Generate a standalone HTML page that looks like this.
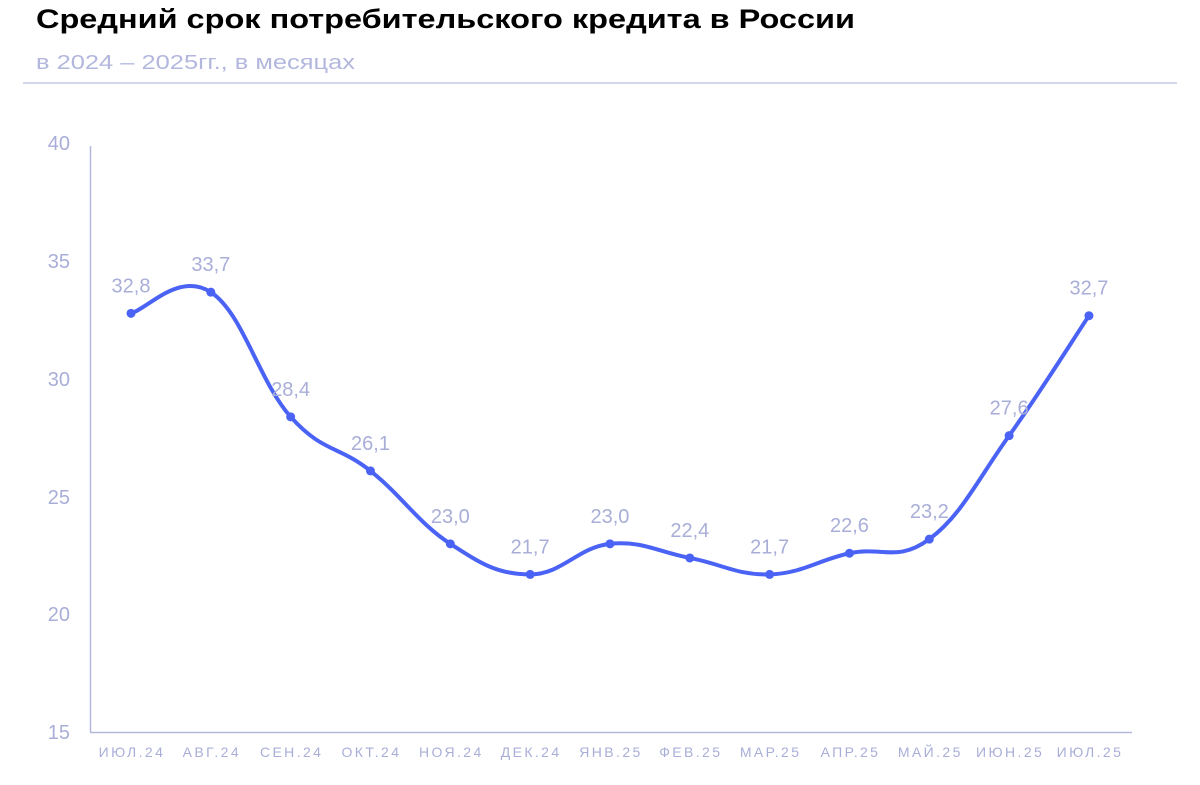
<!DOCTYPE html>
<html><head><meta charset="utf-8"><style>
body{margin:0;width:1200px;height:780px;background:#fff;font-family:"Liberation Sans",sans-serif;overflow:hidden}
</style></head><body>
<svg id="s" width="1200" height="780" xmlns="http://www.w3.org/2000/svg" font-family="Liberation Sans, sans-serif">
<text x="36" y="28" font-size="27" font-weight="bold" fill="#000" textLength="819" lengthAdjust="spacingAndGlyphs">Средний срок потребительского кредита в России</text>
<text x="36" y="69" font-size="20" fill="#b3b7de" textLength="319" lengthAdjust="spacingAndGlyphs">в 2024 – 2025гг., в месяцах</text>
<line x1="23" y1="83" x2="1177" y2="83" stroke="#c4c8e6" stroke-width="1.5"/>
<line x1="90.5" y1="146" x2="90.5" y2="732" stroke="#b3b8e0" stroke-width="1.5"/>
<line x1="90" y1="732.5" x2="1132" y2="732.5" stroke="#b3b8e0" stroke-width="1.5"/>
<g font-size="20" fill="#a9aed8" text-anchor="end">
<text x="70" y="150">40</text><text x="70" y="268">35</text><text x="70" y="386">30</text>
<text x="70" y="504">25</text><text x="70" y="621">20</text><text x="70" y="739">15</text>
</g>
<g id="g"></g>
</svg>
<script>
var v=[32.8,33.7,28.4,26.1,23.0,21.7,23.0,22.4,21.7,22.6,23.2,27.6,32.7];
var m=["ИЮЛ.24","АВГ.24","СЕН.24","ОКТ.24","НОЯ.24","ДЕК.24","ЯНВ.25","ФЕВ.25","МАР.25","АПР.25","МАЙ.25","ИЮН.25","ИЮЛ.25"];
var P=v.map(function(a,i){return [131+i*79.83,732-(a-15)*23.52]});
var d="M"+P[0][0]+","+P[0][1];
for(var i=0;i<P.length-1;i++){var p0=P[i-1]||P[i],p1=P[i],p2=P[i+1],p3=P[i+2]||p2,t=0.5/3*1.2;
d+=" C"+(p1[0]+(p2[0]-p0[0])*t)+","+(p1[1]+(p2[1]-p0[1])*t)+" "+(p2[0]-(p3[0]-p1[0])*t)+","+(p2[1]-(p3[1]-p1[1])*t)+" "+p2[0]+","+p2[1];}
var h='<path d="'+d+'" fill="none" stroke="#4a63f5" stroke-width="4" stroke-linecap="round"/>';
P.forEach(function(p,i){h+='<circle cx="'+p[0]+'" cy="'+p[1]+'" r="4.5" fill="#4a63f5"/>';
h+='<text x="'+p[0]+'" y="'+(p[1]-21)+'" font-size="20" fill="#a9aed8" text-anchor="middle">'+v[i].toFixed(1).replace(".",",")+'</text>';
h+='<text x="'+(p[0]+1)+'" y="757" font-size="14" fill="#a9aed8" text-anchor="middle" letter-spacing="2.4">'+m[i]+'</text>';});
document.getElementById("g").innerHTML=h;
</script>
</body></html>
